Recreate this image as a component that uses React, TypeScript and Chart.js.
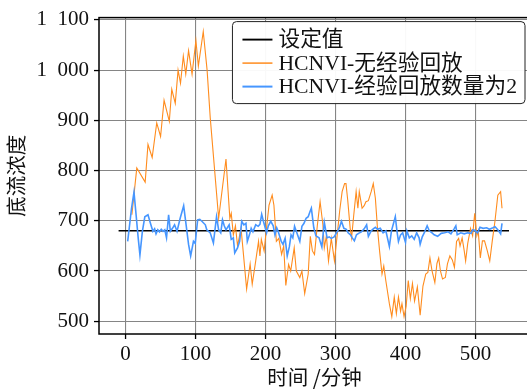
import React, { useEffect, useRef } from "react";
import { Chart, registerables } from "chart.js";

Chart.register(...registerables);

// Set-point of the underflow concentration and the span it is drawn over
const SETPOINT = 680;
const SETPOINT_SPAN = [-10, 548];

// Axis ticks and ranges
const X_TICKS = [0, 100, 200, 300, 400, 500];
const Y_TICKS = [500, 600, 700, 800, 900, 1000, 1100];
const X_RANGE = [-38, 578];
const Y_RANGE = [474.5, 1104.7];

// HCNVI without experience replay
const ORANGE_T = [
  9, 16, 28, 32, 38, 44.5, 50, 55, 62.5, 66, 71, 75, 78.5, 82.5, 86, 90, 95, 100.5, 104, 111,
  116.5, 121, 133, 143.5, 149, 151, 154, 157, 160, 165, 168, 173, 178, 181, 186, 190, 192, 194,
  198, 201, 205, 209.5, 212, 215.5, 219, 223, 226, 229, 233, 236, 241, 244, 249, 252, 256, 261,
  264, 267, 270, 274, 278, 282, 284, 287, 290, 294, 298.5, 303, 306, 309.5, 313, 315, 317.5, 321,
  323, 326, 329.5, 332, 334, 338, 341, 343.5, 347, 351, 354, 357, 360, 363, 366.5, 369, 372, 377,
  380.5, 384, 387, 390, 393, 395, 398, 401, 404, 407, 410, 413, 417, 421, 425, 429, 432, 435, 438,
  442, 445, 447.5, 450, 453, 457, 460, 463.5, 467, 470, 473, 476, 478, 481, 484, 486, 489, 493,
  496, 499, 502, 504, 507, 510, 513, 517, 520.5, 524, 528, 532, 536, 538,
];
const ORANGE_V = [
  712, 805, 777, 852, 826, 895, 868, 940, 898, 962, 934, 1000, 974, 1028, 992, 1039, 992, 1059, 1008, 1077,
  1000, 905, 705, 823, 705, 715, 672, 690, 650, 685, 640, 564, 614, 574, 620, 659, 630, 663,
  640, 680, 731, 751, 731, 659, 665, 633, 650, 571, 613, 600, 646, 600, 587, 600, 555, 594,
  669, 640, 633, 690, 738, 692, 646, 670, 620, 665, 620, 679, 720, 758, 774, 774, 741, 685,
  666, 710, 758, 725, 758, 725, 730, 738, 740, 758, 774, 745, 685, 640, 594, 610, 580, 535,
  509, 548, 515, 548, 520, 535, 509, 530, 581, 545, 575, 540, 568, 512, 570, 594, 597, 626, 600,
  577, 615, 626, 600, 584, 587, 614, 630, 622, 607, 659, 665, 650, 666, 640, 620, 655, 685,
  670, 715, 670, 680, 626, 660, 660, 640, 620, 659, 700, 751, 758, 725,
];

// HCNVI with an experience-replay count of 2
const BLUE_T = [
  3, 8.5, 12, 15, 18, 20.5, 24, 27.5, 32, 35.5, 39, 41.5, 43.5, 46, 48.5, 51, 53.5, 56, 58.5, 61.5,
  64, 67, 70, 73.5, 78, 83, 86.5, 90, 93, 97, 99.5, 103, 106, 109, 114, 116, 121, 125.5, 130, 133,
  136, 138.5, 141, 143.5, 148, 151, 154, 156, 160, 163, 166, 169, 172, 174, 177, 179.5, 182, 186,
  189.5, 192, 194.5, 197, 201.5, 204, 207.5, 211, 213.5, 216, 218, 222.5, 225, 228, 231, 234,
  236.5, 239, 241.5, 245, 249, 252, 255, 258, 261, 263.5, 265.5, 269, 272, 276.5, 280.5, 284,
  288, 291, 294, 298, 304, 306, 308.5, 312, 315.5, 318, 321.5, 324, 327, 330, 333, 337, 341,
  344.5, 347, 351, 354, 357, 360, 364, 368, 372, 377, 380, 385.5, 388, 390, 393, 396, 400, 402,
  405.5, 409, 412.5, 416, 419.5, 421, 424, 427.5, 431, 434, 438, 441, 446, 451, 456, 461, 465,
  469.5, 472, 474, 479, 484, 489, 494, 496, 499, 503, 506.5, 511, 516, 520, 525, 528, 532, 536, 538,
];
const BLUE_V = [
  659, 725, 757, 712, 666, 632, 679, 708, 712, 695, 679, 684, 674, 682, 678, 683, 679, 682, 666, 712,
  679, 685, 692, 679, 705, 730, 692, 653, 630, 659, 655, 702, 703, 699, 692, 682, 676, 656, 708, 682,
  676, 702, 690, 682, 692, 663, 666, 636, 646, 659, 699, 692, 695, 659, 672, 685, 678, 692,
  689, 693, 713, 699, 676, 690, 699, 690, 672, 686, 679, 659, 653, 665, 630, 648,
  672, 666, 689, 675, 659, 689, 695, 705, 708, 718, 725, 686, 670, 666, 648, 697,
  666, 668, 665, 668, 682, 688, 699, 685, 683, 676, 672, 666, 660, 672, 675, 678, 684,
  692, 669, 680, 684, 687, 683, 685, 676, 680, 649, 680, 708, 678, 659, 672, 676, 657, 680,
  666, 670, 663, 676, 666, 653, 668, 678, 690, 680, 676, 672, 669, 675, 676, 678, 674,
  684, 690, 672, 676, 674, 676, 675, 682, 681, 676, 687, 685, 686, 683, 686, 688, 682, 674, 695,
];

const LEGEND_LABELS = ["设定值", "HCNVI-无经验回放", "HCNVI-经验回放数量为2"];
const SERIES_COLORS = ["#000000", "#ff8c1e", "#4696ff"];
const SERIES_WIDTHS = [1.5, 1.1, 1.6];
const X_TITLE = "时间 /分钟";
const Y_TITLE = "底流浓度";

const SERIF = "'Liberation Serif', 'Noto Sans CJK SC', serif";
const CJK = "'Noto Sans CJK SC', 'Liberation Serif', sans-serif";

const CANVAS_W = 545;
const CANVAS_H = 392;

function formatTick(v: number): string {
  if (v >= 1000) {
    const thousands = Math.floor(v / 1000);
    const rest = String(v % 1000).padStart(3, "0");
    return `${thousands}\u2002${rest}`;
  }
  return String(v);
}

function zip(ts: number[], vs: number[]) {
  return ts.map((t, i) => ({ x: t, y: vs[i] }));
}

const frameAndLegend = {
  id: "frameAndLegend",
  afterDatasetsDraw(chart: any) {
    const { ctx, chartArea: a } = chart;
    ctx.save();
    ctx.strokeStyle = "#000";
    ctx.lineWidth = 1.5;
    ctx.strokeRect(a.left, a.top, a.right - a.left, a.bottom - a.top);
    ctx.restore();
  },
  afterDraw(chart: any) {
    const { ctx, chartArea: a } = chart;
    ctx.save();
    ctx.font = `21.7px ${SERIF}`;
    const maxW = Math.max(...LEGEND_LABELS.map((l) => ctx.measureText(l).width));
    const padL = 10, lineLen = 30, gap = 6, padR = 8;
    const boxW = padL + lineLen + gap + maxW + padR;
    const boxH = 82;
    const right = a.right - 5;
    const left = right - boxW;
    const top = a.top + 4;
    ctx.beginPath();
    ctx.roundRect(left, top, boxW, boxH, 4);
    ctx.fillStyle = "rgba(255,255,255,0.95)";
    ctx.fill();
    ctx.strokeStyle = "#222";
    ctx.lineWidth = 1;
    ctx.stroke();
    LEGEND_LABELS.forEach((label, i) => {
      const cy = top + 18 + i * 23.5;
      ctx.beginPath();
      ctx.moveTo(left + padL, cy);
      ctx.lineTo(left + padL + lineLen, cy);
      ctx.strokeStyle = SERIES_COLORS[i];
      ctx.lineWidth = SERIES_WIDTHS[i] + 0.4;
      ctx.stroke();
      ctx.fillStyle = "#111";
      ctx.textBaseline = "middle";
      ctx.textAlign = "left";
      ctx.fillText(label, left + padL + lineLen + gap, cy + 1);
    });
    ctx.restore();
  },
};

export default function App() {
  const canvasRef = useRef<HTMLCanvasElement | null>(null);

  useEffect(() => {
    document.body.style.margin = "0";
    const canvas = canvasRef.current;
    if (!canvas) return;

    const gridCommon = {
      color: "#858585",
      lineWidth: 1.1,
      drawTicks: true,
      tickLength: 5,
      tickColor: "#000",
      tickWidth: 1.3,
    };

    const chart = new Chart(canvas, {
      type: "line",
      data: {
        datasets: [
          {
            label: LEGEND_LABELS[0],
            data: SETPOINT_SPAN.map((x) => ({ x, y: SETPOINT })),
            borderColor: SERIES_COLORS[0],
            borderWidth: SERIES_WIDTHS[0],
            pointRadius: 0,
            order: 3,
          },
          {
            label: LEGEND_LABELS[1],
            data: zip(ORANGE_T, ORANGE_V),
            borderColor: SERIES_COLORS[1],
            borderWidth: SERIES_WIDTHS[1],
            pointRadius: 0,
            order: 2,
          },
          {
            label: LEGEND_LABELS[2],
            data: zip(BLUE_T, BLUE_V),
            borderColor: SERIES_COLORS[2],
            borderWidth: SERIES_WIDTHS[2],
            pointRadius: 0,
            order: 1,
          },
        ],
      },
      options: {
        responsive: false,
        maintainAspectRatio: false,
        animation: false,
        devicePixelRatio: 1,
        layout: { padding: { left: 0, top: 13, right: CANVAS_W - 530, bottom: 0 } },
        plugins: { legend: { display: false }, tooltip: { enabled: false } },
        elements: { line: { tension: 0 } },
        scales: {
          x: {
            type: "linear",
            min: X_RANGE[0],
            max: X_RANGE[1],
            afterBuildTicks: (s: any) => {
              s.ticks = X_TICKS.map((v) => ({ value: v }));
            },
            afterFit: (s: any) => {
              s.height = 58;
            },
            grid: gridCommon,
            border: { display: false },
            ticks: {
              padding: 3,
              color: "#111",
              font: { family: SERIF, size: 21 },
              maxRotation: 0,
              callback: (v: any) => formatTick(Number(v)),
            },
            title: {
              display: true,
              text: X_TITLE,
              color: "#111",
              font: { family: CJK, size: 20.5 },
              padding: { top: 0, bottom: 2 },
            },
          },
          y: {
            type: "linear",
            min: Y_RANGE[0],
            max: Y_RANGE[1],
            afterBuildTicks: (s: any) => {
              s.ticks = Y_TICKS.map((v) => ({ value: v }));
            },
            afterFit: (s: any) => {
              s.width = 99;
            },
            grid: gridCommon,
            border: { display: false },
            ticks: {
              padding: 5,
              color: "#111",
              font: { family: SERIF, size: 21 },
              callback: (v: any) => formatTick(Number(v)),
            },
            title: {
              display: true,
              text: Y_TITLE,
              color: "#111",
              font: { family: CJK, size: 20.5 },
              padding: { top: 4, bottom: 0 },
            },
          },
        },
      },
      plugins: [frameAndLegend],
    } as any);

    return () => chart.destroy();
  }, []);

  return (
    <div
      style={{
        position: "fixed",
        left: 0,
        top: 0,
        width: 527,
        height: CANVAS_H,
        overflow: "hidden",
        background: "#fff",
      }}
    >
      <canvas
        ref={canvasRef}
        width={CANVAS_W}
        height={CANVAS_H}
        style={{ width: CANVAS_W, height: CANVAS_H, display: "block" }}
      />
    </div>
  );
}
